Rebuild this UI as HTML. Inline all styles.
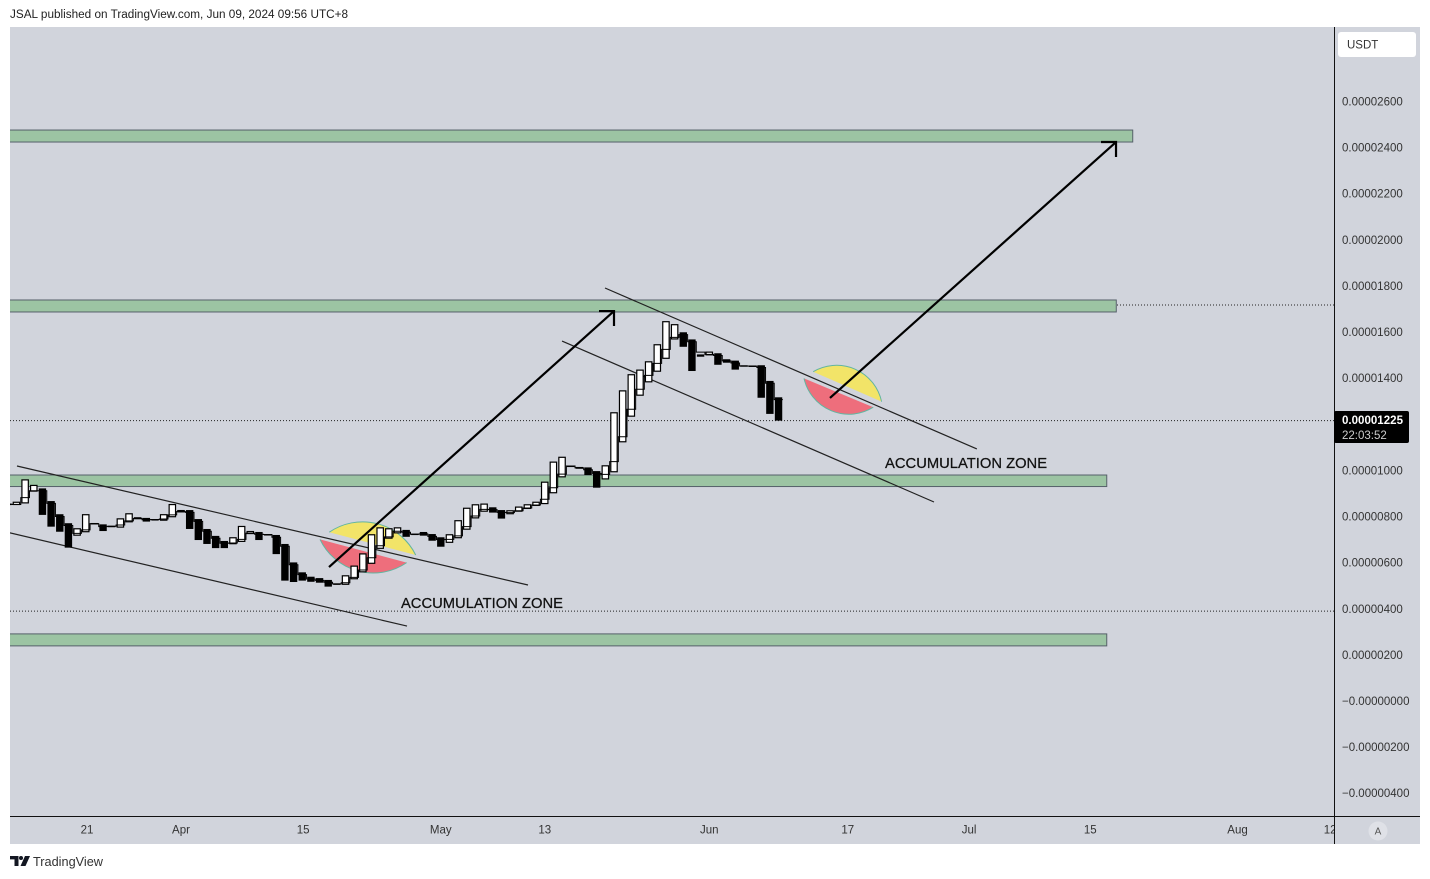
<!DOCTYPE html>
<html lang="en">
<head>
<meta charset="utf-8">
<title>JSAL USDT chart</title>
<style>
html,body{margin:0;padding:0;background:#fff;width:1430px;height:879px;overflow:hidden}
svg{display:block;font-family:"Liberation Sans",sans-serif}
</style>
</head>
<body>
<svg id="chart" xmlns="http://www.w3.org/2000/svg" width="1430" height="879" viewBox="0 0 1430 879">
  <defs>
    <clipPath id="pane-clip"><rect x="10" y="27" width="1324" height="789"/></clipPath>
    <clipPath id="time-clip"><rect x="10" y="817" width="1324" height="27"/></clipPath>
  </defs>
  <text x="10" y="18" font-size="11.5" fill="#222" textLength="338" lengthAdjust="spacingAndGlyphs">JSAL published on TradingView.com, Jun 09, 2024 09:56 UTC+8</text>
  <rect x="10" y="27" width="1410" height="817" fill="#d1d4dc"/>
  <g id="pane" clip-path="url(#pane-clip)"></g>
  <g id="time-axis" clip-path="url(#time-clip)"></g>
  <g id="price-axis"></g>
  <line x1="1334.5" y1="27" x2="1334.5" y2="844" stroke="#111" stroke-width="1"/>
  <line x1="10" y1="816.5" x2="1420" y2="816.5" stroke="#111" stroke-width="1"/>
  <rect x="1338" y="32" width="78" height="25" rx="3" fill="#fff"/>
  <text x="1347" y="48.5" font-size="11.5" fill="#333">USDT</text>
  <rect x="1334" y="411" width="75" height="32" rx="2" fill="#000"/>
  <text x="1342" y="424" font-size="11.5" font-weight="bold" fill="#fff" textLength="61" lengthAdjust="spacingAndGlyphs">0.00001225</text>
  <text x="1342" y="439" font-size="11.5" fill="#ccc">22:03:52</text>
  <circle cx="1378" cy="831" r="9.5" fill="#dfe1e7"/>
  <text x="1378" y="834.5" font-size="10" fill="#555" text-anchor="middle">A</text>
  <g fill="#131722">
    <path d="M10 856h8.5v10h-4v-6.6H10z"/>
    <circle cx="21" cy="858" r="2"/>
    <path d="M25 856h5l-4.5 10H20.5z"/>
  </g>
  <text x="33" y="866" font-size="13" fill="#333" textLength="70" lengthAdjust="spacingAndGlyphs">TradingView</text>
</svg>
<script>
// Chart values: prices are in units of 1e-8 USDT, days are counted from Apr 1.
const firstDay = -20;
const highs = [
  856,864,961,937,922,867,810,771,749,810,
  772,766,760,792,814,797,794,789,810,854,
  828,828,789,746,716,694,710,759,737,733,
  724,720,681,601,558,539,533,525,510,545,
  587,640,723,753,749,753,742,726,733,724,
  710,723,784,838,853,856,840,828,827,843,
  853,864,951,1038,1059,1021,1015,1013,997,1022,
  1252,1347,1417,1437,1473,1547,1647,1634,1599,1568,
  1503,1515,1508,1482,1476,1456,1455,1456,1388,1317];
const lows = [
  850,850,857,908,807,756,734,665,717,732,
  766,737,756,752,775,788,778,785,782,797,
  818,746,698,681,663,663,680,690,724,698,
  719,637,522,516,522,517,513,496,505,504,
  528,558,595,660,704,727,712,720,717,695,
  669,686,706,743,792,821,817,791,810,821,
  833,846,854,901,970,1017,1007,980,925,961,
  992,1122,1233,1324,1382,1428,1484,1568,1536,1431,
  1493,1499,1458,1467,1437,1450,1450,1315,1245,1216];
const levels = [
  853,852,882,912,912,857,800,761,727,742,
  769,756,758,763,781,792,786,787,789,807,
  822,818,779,736,706,684,685,701,728,723,
  722,710,671,591,548,529,523,515,508,513,
  536,568,621,673,712,736,732,723,725,714,
  700,701,716,756,802,831,830,818,817,825,
  837,850,875,925,984,1019,1011,1003,987,983,
  1038,1146,1265,1352,1412,1464,1525,1577,1589,1558,
  1513,1503,1498,1475,1466,1453,1452,1446,1378,1307];
const isUp = [
  0,1,1,1,0,0,0,0,1,1,
  0,0,0,1,1,0,0,0,1,1,
  1,0,0,0,0,0,1,1,1,0,
  0,0,0,0,0,0,0,0,0,1,
  1,1,1,1,1,1,0,0,0,0,
  0,1,1,1,1,1,0,0,1,1,
  1,1,1,1,1,0,0,0,0,1,
  1,1,1,1,1,1,1,1,0,0,
  0,1,0,0,0,0,0,0,0,0];
const priceTicks = [2600,2400,2200,2000,1800,1600,1400,1200,1000,800,600,400,200,0,-200,-400];
const priceTickLabels = ["0.00002600","0.00002400","0.00002200","0.00002000","0.00001800","0.00001600","0.00001400","0.00001200","0.00001000","0.00000800","0.00000600","0.00000400","0.00000200","\u22120.00000000","\u22120.00000200","\u22120.00000400"];
const timeTickDays = [-10.85,0,14.1,30,42,61,77,91,105,122,132.7];
const timeTickLabels = ["21","Apr","15","May","13","Jun","17","Jul","15","Aug","12"];
const zoneTops = [2476,1739,980,291];
const zoneBottoms = [2424,1687,930,239];
const zoneEndDays = [109.9,108,106.9,106.9];
const dottedLevels = [1717,1216,390];
const channelStartDays = [-18.94,-19.75,48.96,44];
const channelStartPrices = [1019,729,1791,1561];
const channelEndDays = [40.07,26.1,91.9,86.95];
const channelEndPrices = [503,325,1093,863];
const arrowStartDays = [17.09,74.94];
const arrowStartPrices = [581,1314];
const arrowEndDays = [50,107.97];
const arrowEndPrices = [1691,2424];
const yellowStartDays = [17.12,73];
const yellowStartPrices = [732,1428];
const yellowEndDays = [27.1,80.9];
const yellowEndPrices = [633,1298];
const redStartDays = [16.05,71.94];
const redStartPrices = [701,1399];
const redEndDays = [26.06,79.94];
const redEndPrices = [600,1274];
const noteDays = [25.4,81.3];
const notePrices = [403,1010];
const noteLabels = ["ACCUMULATION ZONE","ACCUMULATION ZONE"];

const NS = 'http://www.w3.org/2000/svg';
function xAt(day){ return 181 + 8.66 * day; }
function yAt(price){ return 701 - 0.2306 * price; }
function make(tag, attrs, parent){
  const el = document.createElementNS(NS, tag);
  for (const k in attrs) el.setAttribute(k, attrs[k]);
  parent.appendChild(el);
  return el;
}
const pane = document.getElementById('pane');
const priceAxis = document.getElementById('price-axis');
const timeAxis = document.getElementById('time-axis');

dottedLevels.forEach(function(p){
  const el = make('line', {x1:10, x2:1334, y1:yAt(p), y2:yAt(p), stroke:'#222', 'stroke-width':1, 'stroke-dasharray':'1 2'}, pane);
  
  
});

zoneTops.forEach(function(p, i){
  const el = make('rect', {x:4, y:yAt(p), width:xAt(zoneEndDays[i]) - 4, height:yAt(zoneBottoms[i]) - yAt(p), fill:'#9cc4a3', stroke:'#56606a', 'stroke-width':1}, pane);
  
  
});

function lens(x1, y1, x2, y2, r, sweep, fill){
  const el = make('path', {d:'M' + x1 + ' ' + y1 + ' A' + r + ' ' + r + ' 0 0 ' + sweep + ' ' + x2 + ' ' + y2 + ' Z', fill:fill}, pane);
  return el;
}
function lensEdge(x1, y1, x2, y2, r, sweep){
  const el = make('path', {d:'M' + x1 + ' ' + y1 + ' A' + r + ' ' + r + ' 0 0 ' + sweep + ' ' + x2 + ' ' + y2, fill:'none', stroke:'#62b5a0', 'stroke-width':1}, pane);
  return el;
}
const lensRadii = [59, 46];
yellowStartDays.forEach(function(d, i){
  const a = lens(xAt(d), yAt(yellowStartPrices[i]), xAt(yellowEndDays[i]), yAt(yellowEndPrices[i]), lensRadii[i], 1, '#f2e468');
  
  
  const ae = lensEdge(xAt(d), yAt(yellowStartPrices[i]), xAt(yellowEndDays[i]), yAt(yellowEndPrices[i]), lensRadii[i], 1);
  
  
  const b = lens(xAt(redStartDays[i]), yAt(redStartPrices[i]), xAt(redEndDays[i]), yAt(redEndPrices[i]), lensRadii[i], 0, '#ee6e7c');
  
  
  const be = lensEdge(xAt(redStartDays[i]), yAt(redStartPrices[i]), xAt(redEndDays[i]), yAt(redEndPrices[i]), lensRadii[i], 0);
  
  
});

channelStartDays.forEach(function(d, i){
  const el = make('line', {x1:xAt(d), y1:yAt(channelStartPrices[i]), x2:xAt(channelEndDays[i]), y2:yAt(channelEndPrices[i]), stroke:'#222', 'stroke-width':1.2}, pane);
  
  
});

highs.forEach(function(h, i){
  const x = xAt(firstDay + i);
  const top = yAt(h);
  const bodyH = Math.max(1.5, yAt(lows[i]) - top);
  const el = isUp[i]
    ? make('rect', {x:x - 3.2, y:top + 0.5, width:6.4, height:Math.max(1, bodyH - 1), fill:'#fff', stroke:'#000', 'stroke-width':1.2}, pane)
    : make('rect', {x:x - 3.7, y:top, width:7.4, height:bodyH, fill:'#000'}, pane);
  
  
});

let stepPath = '';
levels.forEach(function(v, i){
  const x = xAt(firstDay + i);
  stepPath += (i === 0 ? 'M' : 'L') + (x - 4.33) + ' ' + yAt(v) + ' L' + (x + 4.33) + ' ' + yAt(v) + ' ';
});
const stepLine = make('path', {d:stepPath, fill:'none', stroke:'#000', 'stroke-width':1}, pane);



arrowStartDays.forEach(function(d, i){
  const ex = xAt(arrowEndDays[i]);
  const ey = yAt(arrowEndPrices[i]);
  const shaft = make('line', {x1:xAt(d), y1:yAt(arrowStartPrices[i]), x2:ex, y2:ey, stroke:'#000', 'stroke-width':2.2}, pane);
  
  
  const head = make('path', {d:'M' + (ex - 15) + ' ' + ey + ' L' + ex + ' ' + ey + ' L' + ex + ' ' + (ey + 15), fill:'none', stroke:'#000', 'stroke-width':2.2}, pane);
  
  
});

noteLabels.forEach(function(t, i){
  const el = make('text', {x:xAt(noteDays[i]), y:yAt(notePrices[i]), 'font-size':15, fill:'#111', stroke:'#111', 'stroke-width':0.25, textLength:162, lengthAdjust:'spacingAndGlyphs'}, pane);
  el.textContent = t;
  
  
});

priceTicks.forEach(function(p, i){
  const el = make('text', {x:1342, y:yAt(p) + 4, 'font-size':11.5, fill:'#333'}, priceAxis);
  el.textContent = priceTickLabels[i];
  
  
});

timeTickDays.forEach(function(d, i){
  const el = make('text', {x:xAt(d), y:833.5, 'font-size':11.5, fill:'#333', 'text-anchor':'middle'}, timeAxis);
  el.textContent = timeTickLabels[i];
  
  
});
</script>
</body>
</html>
